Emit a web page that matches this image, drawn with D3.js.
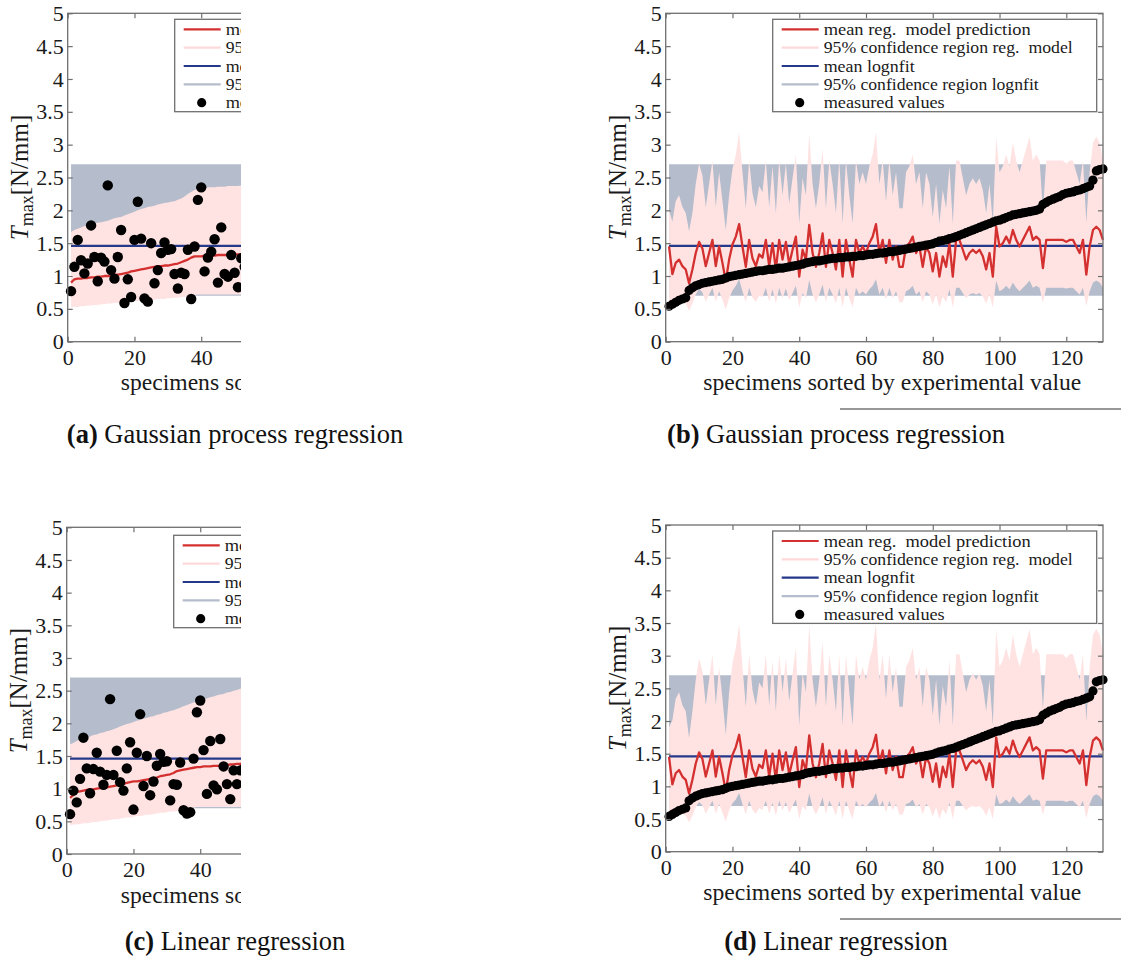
<!DOCTYPE html>
<html><head><meta charset="utf-8">
<script src="https://cdn.jsdelivr.net/npm/d3@7"></script>
<style>body{margin:0;background:#fff} svg{display:block}</style>
</head><body>
<svg id="c" width="1121" height="963"></svg>
<script>
// ---------------- data ----------------
const xTicks = [0, 20, 40, 60, 80, 100, 120];
const yTicks = [0, 0.5, 1, 1.5, 2, 2.5, 3, 3.5, 4, 4.5, 5];
const yTickLabels = ["0","0.5","1","1.5","2","2.5","3","3.5","4","4.5","5"];
const nSpecimens = 131;
const lognMean = 1.46, lognLow = 0.70, lognHigh = 2.70;

// measured values sorted by experimental value (panels b, d)
const measuredSorted = [
 0.54,0.57,0.60,0.63,0.65,0.67,0.78,0.82,0.85,0.87,
 0.89,0.90,0.91,0.92,0.93,0.94,0.95,0.97,0.99,1.00,
 1.01,1.02,1.03,1.04,1.05,1.06,1.07,1.08,1.08,1.09,
 1.10,1.10,1.11,1.12,1.12,1.13,1.14,1.15,1.16,1.17,
 1.18,1.20,1.21,1.22,1.23,1.23,1.24,1.25,1.26,1.27,
 1.27,1.28,1.28,1.29,1.29,1.30,1.30,1.31,1.31,1.32,
 1.33,1.33,1.34,1.35,1.35,1.36,1.37,1.37,1.38,1.39,
 1.40,1.41,1.42,1.43,1.44,1.45,1.46,1.47,1.48,1.49,
 1.51,1.53,1.54,1.55,1.57,1.58,1.60,1.62,1.64,1.66,
 1.68,1.70,1.72,1.74,1.76,1.78,1.80,1.82,1.84,1.85,
 1.87,1.89,1.91,1.93,1.94,1.95,1.96,1.97,1.98,1.99,
 2.00,2.02,2.09,2.12,2.15,2.17,2.19,2.21,2.24,2.26,
 2.27,2.28,2.30,2.31,2.33,2.35,2.37,2.46,2.60,2.62,
 2.63];

// mean regression model prediction (panels b, d)
const meanPred = [
 1.45,1.03,1.20,1.25,1.15,1.10,0.89,1.10,1.35,1.52,
 1.42,1.15,1.35,1.55,1.15,1.45,1.20,0.92,1.25,1.48,
 1.60,1.79,1.45,1.14,1.55,1.27,1.15,1.33,1.28,1.55,
 1.15,1.50,1.10,1.55,1.25,1.52,1.18,1.40,1.60,0.99,
 1.40,1.25,1.78,1.35,1.14,1.35,1.65,1.14,1.55,1.35,
 1.10,1.55,0.99,1.55,1.25,0.99,1.55,1.35,1.45,1.35,
 1.50,1.60,1.79,1.35,1.55,1.20,1.55,1.25,1.45,1.14,
 1.14,1.45,1.50,1.60,1.35,1.45,1.14,1.45,1.35,1.07,
 1.35,0.99,1.30,1.14,1.50,0.99,1.55,1.55,1.40,1.25,
 1.35,1.40,1.35,1.40,1.30,1.10,1.35,0.99,1.75,1.45,
 1.50,1.60,1.50,1.70,1.55,1.45,1.55,1.65,1.75,1.55,
 1.60,1.55,1.12,1.55,1.55,1.55,1.55,1.55,1.55,1.52,
 1.55,1.55,1.45,1.35,1.55,1.02,1.45,1.70,1.75,1.70,
 1.55];

// 95% confidence region, Gaussian process (panel b)
const gpUpper = [
 2.00,1.83,2.14,2.23,2.05,1.96,1.68,1.96,2.40,2.71,
 2.53,2.05,2.40,2.76,2.05,2.58,2.14,1.70,2.23,2.63,
 2.85,3.19,2.58,2.03,2.76,2.26,2.05,2.37,2.28,2.76,
 2.05,2.67,1.96,2.76,2.23,2.71,2.10,2.49,2.85,1.80,
 2.49,2.23,3.17,2.40,2.03,2.40,2.94,2.03,2.76,2.40,
 1.96,2.76,1.80,2.76,2.23,1.80,2.76,2.40,2.58,2.40,
 2.67,2.85,3.19,2.40,2.76,2.14,2.76,2.23,2.58,2.03,
 2.03,2.58,2.67,2.85,2.40,2.58,2.03,2.58,2.40,1.90,
 2.40,1.80,2.31,2.03,2.67,1.80,2.76,2.76,2.49,2.23,
 2.40,2.49,2.40,2.49,2.31,1.96,2.40,1.80,3.12,2.58,
 2.67,2.85,2.67,3.03,2.76,2.58,2.76,2.94,3.12,2.76,
 2.85,2.76,1.99,2.76,2.76,2.76,2.76,2.76,2.76,2.71,
 2.76,2.76,2.58,2.40,2.76,1.82,2.58,3.03,3.12,3.03,
 2.76];
const gpLower = [
 0.62,0.55,0.64,0.66,0.61,0.58,0.47,0.58,0.72,0.81,
 0.75,0.61,0.72,0.82,0.61,0.77,0.64,0.49,0.66,0.78,
 0.85,0.95,0.77,0.60,0.82,0.67,0.61,0.70,0.68,0.82,
 0.61,0.80,0.58,0.82,0.66,0.81,0.63,0.74,0.85,0.52,
 0.74,0.66,0.94,0.72,0.60,0.72,0.87,0.60,0.82,0.72,
 0.58,0.82,0.52,0.82,0.66,0.52,0.82,0.72,0.77,0.72,
 0.80,0.85,0.95,0.72,0.82,0.64,0.82,0.66,0.77,0.60,
 0.60,0.77,0.80,0.85,0.72,0.77,0.60,0.77,0.72,0.57,
 0.72,0.52,0.69,0.60,0.80,0.52,0.82,0.82,0.74,0.66,
 0.72,0.74,0.72,0.74,0.69,0.58,0.72,0.52,0.93,0.77,
 0.80,0.85,0.80,0.90,0.82,0.77,0.82,0.87,0.93,0.82,
 0.85,0.82,0.59,0.82,0.82,0.82,0.82,0.82,0.82,0.81,
 0.82,0.82,0.77,0.72,0.82,0.54,0.77,0.90,0.93,0.90,
 0.82];

// 95% confidence region, linear regression (panel d)
const linUpper = [
 1.90,2.01,2.34,2.44,2.24,2.15,1.74,2.15,2.63,2.96,
 2.77,2.24,2.63,3.02,2.24,2.83,2.34,1.79,2.44,2.89,
 3.12,3.49,2.83,2.22,3.02,2.48,2.24,2.59,2.50,3.02,
 2.24,2.93,2.15,3.02,2.44,2.96,2.30,2.73,3.12,1.93,
 2.73,2.44,3.47,2.63,2.22,2.63,3.22,2.22,3.02,2.63,
 2.15,3.02,1.93,3.02,2.44,1.93,3.02,2.63,2.83,2.63,
 2.93,3.12,3.49,2.63,3.02,2.34,3.02,2.44,2.83,2.22,
 2.22,2.83,2.93,3.12,2.63,2.83,2.22,2.83,2.63,2.09,
 2.63,1.93,2.54,2.22,2.93,1.93,3.02,3.02,2.73,2.44,
 2.63,2.73,2.63,2.73,2.54,2.15,2.63,1.93,3.41,2.83,
 2.93,3.12,2.93,3.32,3.02,2.83,3.02,3.22,3.41,3.02,
 3.12,3.02,2.18,3.02,3.02,3.02,3.02,3.02,3.02,2.96,
 3.02,3.02,2.83,2.63,3.02,1.99,2.83,3.32,3.41,3.32,
 3.02];
const linLower = [
 0.62,0.52,0.60,0.63,0.58,0.55,0.45,0.55,0.68,0.76,
 0.71,0.58,0.68,0.78,0.58,0.73,0.60,0.46,0.63,0.74,
 0.80,0.90,0.73,0.57,0.78,0.64,0.58,0.67,0.64,0.78,
 0.58,0.75,0.55,0.78,0.63,0.76,0.59,0.70,0.80,0.50,
 0.70,0.63,0.89,0.68,0.57,0.68,0.83,0.57,0.78,0.68,
 0.55,0.78,0.50,0.78,0.63,0.50,0.78,0.68,0.73,0.68,
 0.75,0.80,0.90,0.68,0.78,0.60,0.78,0.63,0.73,0.57,
 0.57,0.73,0.75,0.80,0.68,0.73,0.57,0.73,0.68,0.54,
 0.68,0.50,0.65,0.57,0.75,0.50,0.78,0.78,0.70,0.63,
 0.68,0.70,0.68,0.70,0.65,0.55,0.68,0.50,0.88,0.73,
 0.75,0.80,0.75,0.85,0.78,0.73,0.78,0.83,0.88,0.78,
 0.80,0.78,0.56,0.78,0.78,0.78,0.78,0.78,0.78,0.76,
 0.78,0.78,0.73,0.68,0.78,0.51,0.73,0.85,0.88,0.85,
 0.78];

// panel a (Gaussian process, sorted by prediction; only first 53 visible)
const gpAMeasured = [
 0.77,1.14,1.55,1.24,1.04,1.19,1.77,1.29,0.92,1.28,
 1.22,2.38,1.09,0.96,1.29,1.70,0.59,0.95,0.68,1.55,
 2.13,1.57,0.66,0.61,1.50,0.89,1.09,1.35,1.51,1.40,
 1.41,1.03,0.81,1.05,1.03,1.40,0.65,1.45,2.16,2.35,
 1.07,1.28,1.37,1.56,0.90,1.74,1.03,0.99,1.32,1.05,
 0.83,1.27,1.14];
const gpAMean = [
 0.90,0.95,0.96,0.96,0.97,0.97,0.98,0.98,0.99,0.99,
 1.00,1.00,1.01,1.02,1.02,1.03,1.04,1.05,1.07,1.08,
 1.09,1.10,1.11,1.12,1.13,1.14,1.15,1.15,1.16,1.16,
 1.17,1.18,1.19,1.21,1.23,1.25,1.28,1.30,1.30,1.30,
 1.31,1.31,1.31,1.31,1.32,1.32,1.32,1.32,1.32,1.33,
 1.33,1.33,1.33];
const gpAUpper = [
 1.67,1.70,1.72,1.74,1.76,1.77,1.78,1.80,1.81,1.82,
 1.83,1.84,1.86,1.88,1.89,1.90,1.92,1.94,1.96,1.98,
 2.00,2.02,2.03,2.05,2.06,2.07,2.09,2.10,2.11,2.12,
 2.13,2.14,2.16,2.18,2.21,2.25,2.28,2.31,2.33,2.34,
 2.34,2.35,2.35,2.35,2.36,2.36,2.36,2.37,2.37,2.37,
 2.37,2.38,2.38];
const gpALower = [
 0.52,0.53,0.53,0.54,0.54,0.55,0.55,0.56,0.56,0.57,
 0.57,0.58,0.58,0.59,0.59,0.60,0.60,0.61,0.61,0.62,
 0.62,0.63,0.63,0.63,0.64,0.64,0.65,0.65,0.65,0.66,
 0.66,0.67,0.67,0.68,0.68,0.69,0.70,0.71,0.72,0.72,
 0.72,0.72,0.72,0.72,0.72,0.72,0.72,0.72,0.72,0.72,
 0.72,0.72,0.72];

// panel c (linear regression, sorted by prediction; only first 53 visible)
const linCMeasured = [
 0.61,0.97,0.79,1.15,1.78,1.31,0.93,1.30,1.55,1.26,
 1.06,1.21,2.37,1.21,1.58,1.10,0.97,1.31,1.71,0.68,
 1.55,2.14,1.04,1.50,0.90,1.11,1.35,1.53,1.41,1.42,
 0.82,1.07,1.06,1.40,0.67,0.62,0.64,1.46,2.17,2.35,
 1.59,0.92,1.73,1.05,0.99,1.76,1.34,1.07,0.84,1.28,
 1.07,1.28,1.30];
const linCMean = [
 0.86,0.90,0.95,0.96,0.97,0.98,0.99,0.99,1.00,1.01,
 1.02,1.02,1.03,1.04,1.05,1.06,1.07,1.09,1.10,1.11,
 1.11,1.12,1.13,1.14,1.15,1.16,1.17,1.19,1.20,1.21,
 1.22,1.24,1.27,1.28,1.29,1.30,1.31,1.32,1.33,1.33,
 1.34,1.34,1.34,1.35,1.35,1.35,1.36,1.36,1.37,1.37,
 1.38,1.38,1.39];
const linCUpper = [
 1.68,1.70,1.73,1.75,1.77,1.78,1.80,1.82,1.83,1.85,
 1.86,1.88,1.89,1.91,1.93,1.95,1.97,1.99,2.00,2.02,
 2.04,2.05,2.07,2.08,2.10,2.11,2.13,2.14,2.16,2.17,
 2.19,2.20,2.22,2.24,2.26,2.28,2.30,2.32,2.34,2.35,
 2.37,2.38,2.40,2.41,2.43,2.44,2.45,2.47,2.48,2.50,
 2.51,2.53,2.54];
const linCLower = [
 0.44,0.45,0.45,0.46,0.47,0.47,0.48,0.49,0.49,0.50,
 0.51,0.51,0.52,0.53,0.53,0.54,0.55,0.56,0.56,0.57,
 0.58,0.58,0.59,0.60,0.60,0.61,0.62,0.63,0.63,0.64,
 0.65,0.65,0.66,0.67,0.68,0.69,0.70,0.71,0.72,0.72,
 0.72,0.72,0.72,0.72,0.72,0.72,0.72,0.72,0.72,0.72,
 0.72,0.72,0.72];

const legendLabels = [
 "mean reg.\u00a0 model prediction",
 "95% confidence region reg.\u00a0 model",
 "mean lognfit",
 "95% confidence region lognfit",
 "measured values"];
const xAxisLabel = "specimens sorted by experimental value";
const captions = [
 {tag: "(a)", text: " Gaussian process regression"},
 {tag: "(b)", text: " Gaussian process regression"},
 {tag: "(c)", text: " Linear regression"},
 {tag: "(d)", text: " Linear regression"}];

// ---------------- style ----------------
const FONT = "'Liberation Serif','Times New Roman',serif";
const C = {
  red: "#d3302f", pink: "#ffe3e3", pinkLine: "#ffd9d9",
  blue: "#24398a", gray: "#b5bdcc", axis: "#6f6f6f", text: "#1a1a1a"
};
const legendTextWidths = [207, 249, 91, 215, 121];

const svg = d3.select("#c").style("font-family", FONT);
const defs = svg.append("defs");

function drawPanel(p, id) {
  const n = p.measured.length;
  const idx = d3.range(1, n + 1);
  const g0 = svg.append("g");
  let g = g0;
  if (p.clipRight) {
    defs.append("clipPath").attr("id", "clip" + id)
      .append("rect").attr("x", 0).attr("y", p.top - 20).attr("width", p.clipRight).attr("height", p.bottom - p.top + 80);
    g = g0.attr("clip-path", `url(#clip${id})`);
  }
  const x = d3.scaleLinear().domain([0, nSpecimens]).range([p.left, p.right]);
  const y = d3.scaleLinear().domain([0, 5]).range([p.bottom, p.top]);

  // lognfit confidence band (gray)
  g.append("path").datum([1, nSpecimens])
    .attr("fill", C.gray)
    .attr("d", d3.area().x(d => x(d)).y0(y(lognLow)).y1(y(lognHigh)));
  // regression model confidence band (pink)
  g.append("path").datum(idx)
    .attr("fill", C.pink)
    .attr("d", d3.area().x(i => x(i)).y0(i => y(p.lower[i - 1])).y1(i => y(p.upper[i - 1])));
  // mean lognfit
  g.append("line")
    .attr("x1", x(1)).attr("x2", x(nSpecimens))
    .attr("y1", y(lognMean)).attr("y2", y(lognMean))
    .attr("stroke", C.blue).attr("stroke-width", 2.2);
  // mean model prediction
  g.append("path").datum(idx)
    .attr("fill", "none").attr("stroke", C.red).attr("stroke-width", 2.3).attr("stroke-linejoin", "round")
    .attr("d", d3.line().x(i => x(i)).y(i => y(p.mean[i - 1])));
  // measured values
  g.append("g").selectAll("circle").data(idx).join("circle")
    .attr("cx", i => x(i)).attr("cy", i => y(p.measured[i - 1]))
    .attr("r", p.r).attr("fill", "#000");

  // axes box
  g.append("rect").attr("x", p.left).attr("y", p.top)
    .attr("width", p.right - p.left).attr("height", p.bottom - p.top)
    .attr("fill", "none").attr("stroke", C.axis).attr("stroke-width", 1.3);

  const styleAxis = a => {
    a.select(".domain").remove();
    a.selectAll(".tick line").attr("stroke", C.axis).attr("stroke-width", 1.2);
    a.selectAll(".tick text").attr("fill", C.text).style("font-family", FONT).style("font-size", "22px");
  };
  g.append("g").attr("transform", `translate(0,${p.bottom})`)
    .call(d3.axisBottom(x).tickValues(xTicks).tickSize(-5).tickSizeOuter(0).tickPadding(7.5))
    .call(styleAxis);
  g.append("g").attr("transform", `translate(0,${p.top})`)
    .call(d3.axisTop(x).tickValues(xTicks).tickSize(-5).tickSizeOuter(0).tickFormat(""))
    .call(styleAxis);
  g.append("g").attr("transform", `translate(${p.left},0)`)
    .call(d3.axisLeft(y).tickValues(yTicks).tickSize(-5).tickSizeOuter(0).tickPadding(4)
      .tickFormat((d, i) => yTickLabels[i]))
    .call(styleAxis);
  g.append("g").attr("transform", `translate(${p.right},0)`)
    .call(d3.axisRight(y).tickValues(yTicks).tickSize(-5).tickSizeOuter(0).tickFormat(""))
    .call(styleAxis);

  // axis labels
  g.append("text")
    .attr("x", p.xLabelStart).attr("y", p.bottom + 48.5)
    .attr("fill", C.text).style("font-size", "23px")
    .attr("textLength", 378).attr("lengthAdjust", "spacingAndGlyphs")
    .text(xAxisLabel);
  const yl = g.append("text")
    .attr("transform", `translate(${p.left - 40},${(p.top + p.bottom) / 2}) rotate(-90)`)
    .attr("text-anchor", "middle").attr("fill", C.text).style("font-size", "25px");
  yl.append("tspan").style("font-style", "italic").text("T");
  yl.append("tspan").attr("dy", 5).style("font-size", "18px").text("max");
  yl.append("tspan").attr("dy", -5).text("[N/mm]");

  // legend
  const lx = p.left + 107, ly = p.top + p.legOff;
  const L = g.append("g");
  L.append("rect").attr("x", lx).attr("y", ly).attr("width", 324).attr("height", 92.4)
    .attr("fill", "#fff").attr("stroke", C.axis).attr("stroke-width", 1.3);
  const legCol = [C.red, C.pinkLine, C.blue, C.gray];
  legendLabels.forEach((lab, k) => {
    const yy = ly + 10 + k * 18.35;
    if (k < 4) {
      L.append("line").attr("x1", lx + 9).attr("x2", lx + 46).attr("y1", yy).attr("y2", yy)
        .attr("stroke", legCol[k]).attr("stroke-width", 2.2);
    } else {
      L.append("circle").attr("cx", lx + 27).attr("cy", yy).attr("r", 4.6).attr("fill", "#000");
    }
    L.append("text").attr("x", lx + 51).attr("y", yy).attr("dy", "0.32em")
      .attr("fill", C.text).style("font-size", "17.5px")
      .attr("textLength", legendTextWidths[k]).attr("lengthAdjust", "spacingAndGlyphs")
      .text(lab);
  });
}

const panels = [
  {left: 67.7, right: 505, top: 13.3, bottom: 341.7, clipRight: 241, legOff: 6, xLabelStart: 120.7, r: 5.2,
   measured: gpAMeasured, mean: gpAMean, upper: gpAUpper, lower: gpALower},
  {left: 665.7, right: 1103, top: 13.3, bottom: 341.7, legOff: 6, xLabelStart: 703.3, r: 4.6,
   measured: measuredSorted, mean: meanPred, upper: gpUpper, lower: gpLower},
  {left: 66.7, right: 504, top: 527.3, bottom: 854, clipRight: 241, legOff: 8, xLabelStart: 120.7, r: 5.2,
   measured: linCMeasured, mean: linCMean, upper: linCUpper, lower: linCLower},
  {left: 665.7, right: 1103, top: 525, bottom: 851.7, legOff: 6, xLabelStart: 703.3, r: 4.6,
   measured: measuredSorted, mean: meanPred, upper: linUpper, lower: linLower}
];
panels.forEach((p, i) => drawPanel(p, i));

// captions
const capPos = [[235, 443], [836, 443], [235, 950], [836, 950]];
captions.forEach((c, i) => {
  const t = svg.append("text").attr("x", capPos[i][0]).attr("y", capPos[i][1])
    .attr("text-anchor", "middle").attr("fill", "#111").style("font-size", "26.5px");
  t.append("tspan").style("font-weight", "bold").text(c.tag);
  t.append("tspan").text(c.text);
});

// separator rules under right captions area
[409, 919].forEach(yy => {
  svg.append("line").attr("x1", 840).attr("x2", 1121).attr("y1", yy).attr("y2", yy)
    .attr("stroke", "#333").attr("stroke-width", 1.2);
});
</script>
</body></html>
